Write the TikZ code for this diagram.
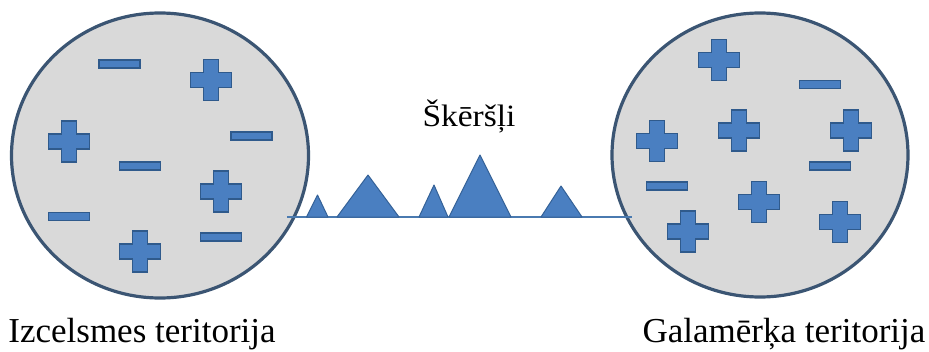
\documentclass[tikz,border=0pt]{standalone}
\usepackage{fontspec}
\usepackage{graphicx}
\setmainfont{Liberation Serif}
\definecolor{symfill}{HTML}{4A7FC1}
\definecolor{symedge}{HTML}{2F5A8C}
\definecolor{circfill}{HTML}{D9D9D9}
\definecolor{circedge}{HTML}{3B5573}
\definecolor{linecol}{HTML}{4A7AB0}
\tikzset{
  x=1pt, y=-1pt,
  territory/.style={draw=circedge, fill=circfill, line width=3.2pt},
  symbol/.style={fill=symfill, draw=symedge, line width=1.3pt, line join=miter},
  peak/.style={fill=symfill, draw=symedge!80!symfill, line width=1pt, line join=round},
  barrier/.style={draw=linecol, line width=2.8pt},
  label/.style={anchor=base, inner sep=0pt, font=\fontsize{35}{40}\selectfont},
  pluss/.pic={\path[symbol] (-20.5,-7.5) -- (-7.5,-7.5) -- (-7.5,-20.5) -- (7.5,-20.5) -- (7.5,-7.5) -- (20.5,-7.5) -- (20.5,7.5) -- (7.5,7.5) -- (7.5,20.5) -- (-7.5,20.5) -- (-7.5,7.5) -- (-20.5,7.5) -- cycle;},
  minuss/.pic={\path[symbol] (-20.5,-4) rectangle (20.5,4);}
}
\begin{document}
\begin{tikzpicture}
\useasboundingbox (0,0) rectangle (929,351);
% barrier line
\coordinate (lineL) at (287,217);
\coordinate (lineR) at (632,217);
% circles
\path[territory] (160,155.5) ellipse [x radius=148.5, y radius=142.5];
\path[territory] (760,155) ellipse [x radius=148, y radius=142];
\draw[barrier] (lineL) -- (lineR);
% peaks
\path[peak] (306.5,217) -- (317.5,195) -- (328,217) -- cycle;
\path[peak] (337,217) -- (368,175) -- (399,217) -- cycle;
\path[peak] (419,217) -- (434,185) -- (448,217) -- cycle;
\path[peak] (449,217) -- (480,155) -- (511,217) -- cycle;
\path[peak] (541,217) -- (561,186) -- (582,217) -- cycle;
% left symbols
\pic at (119.5,64) {minuss};
\pic at (251.5,136) {minuss};
\pic at (140,166) {minuss};
\pic at (69,216.5) {minuss};
\pic at (221,237) {minuss};
\pic at (211,80) {pluss};
\pic at (69,141.5) {pluss};
\pic at (221,191.5) {pluss};
\pic at (140,251.5) {pluss};
% right symbols
\pic at (719,60) {pluss};
\pic at (657,141) {pluss};
\pic at (739,130.5) {pluss};
\pic at (851,130.5) {pluss};
\pic at (759,202) {pluss};
\pic at (688,231.5) {pluss};
\pic at (840,222) {pluss};
\pic at (820,84.5) {minuss};
\pic at (830,166) {minuss};
\pic at (667,186) {minuss};
% labels
\node[label] (obst) at (469,126) {\fontsize{31}{36}\selectfont\scalebox{1.08}[1]{Škēršļi}};
\node[label] (src) at (142,342) {Izcelsmes teritorija};
\node[label] (dst) at (784,342) {Galamērķa teritorija};
\end{tikzpicture}
\end{document}
